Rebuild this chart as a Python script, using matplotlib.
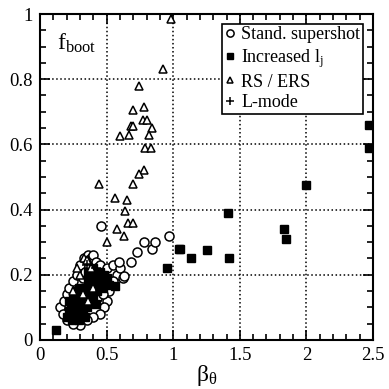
import numpy as np
import matplotlib
matplotlib.use("Agg")
import matplotlib.pyplot as plt
from matplotlib.ticker import MultipleLocator

plt.rcParams['font.family'] = ['Liberation Serif', 'DejaVu Serif']
plt.rcParams['mathtext.fontset'] = 'stix'

# standard supershot (open circles)
ss_x = [0.15, 0.18, 0.20, 0.22, 0.25, 0.28, 0.30, 0.33, 0.36, 0.38, 0.40, 0.42,
        0.45, 0.50, 0.55, 0.58, 0.62, 0.55, 0.52, 0.50, 0.48, 0.45, 0.40, 0.35,
        0.30, 0.25, 0.20, 0.17, 0.27, 0.32, 0.37, 0.43, 0.47, 0.23, 0.34, 0.41,
        0.46, 0.60, 0.68, 0.73, 0.78, 0.84, 0.865, 0.965, 0.59, 0.63]
ss_y = [0.10, 0.12, 0.14, 0.16, 0.18, 0.20, 0.23, 0.25, 0.26, 0.25, 0.26, 0.24,
        0.23, 0.22, 0.23, 0.20, 0.19, 0.18, 0.15, 0.12, 0.10, 0.08, 0.07, 0.06,
        0.045, 0.05, 0.06, 0.08, 0.11, 0.19, 0.16, 0.13, 0.14, 0.09, 0.21, 0.20,
        0.35, 0.22, 0.24, 0.27, 0.30, 0.28, 0.30, 0.32, 0.24, 0.195]

# increased li (filled squares)
li_x = [0.12, 0.20, 0.22, 0.24, 0.25, 0.27, 0.28, 0.30, 0.30, 0.32, 0.33, 0.35,
        0.35, 0.36, 0.38, 0.38, 0.40, 0.40, 0.42, 0.43, 0.45, 0.45, 0.47, 0.48,
        0.50, 0.52, 0.25, 0.27, 0.32, 0.34, 0.22, 0.56, 0.42, 0.37, 0.29, 0.44,
        0.40, 0.36, 0.26, 0.31, 0.34, 0.39, 0.44, 0.48, 0.23, 0.29,
        0.95, 1.045, 1.05, 1.13, 1.25, 1.41, 1.42, 1.83, 1.85, 2.0,
        2.47, 2.47]
li_y = [0.03, 0.07, 0.09, 0.06, 0.10, 0.08, 0.12, 0.10, 0.14, 0.12, 0.16, 0.10,
        0.14, 0.18, 0.15, 0.20, 0.13, 0.17, 0.19, 0.15, 0.18, 0.21, 0.16, 0.20,
        0.19, 0.17, 0.13, 0.15, 0.09, 0.07, 0.12, 0.165, 0.11, 0.12, 0.06, 0.20,
        0.22, 0.21, 0.075, 0.075, 0.12, 0.17, 0.17, 0.18, 0.10, 0.16,
        0.22, 0.28, 0.28, 0.25, 0.275, 0.39, 0.25, 0.34, 0.31, 0.475,
        0.66, 0.59]

# RS / ERS (open triangles)
rs_x = [0.985, 0.92, 0.745, 0.70, 0.78, 0.77, 0.80, 0.68, 0.70, 0.84, 0.60,
        0.67, 0.82, 0.79, 0.83, 0.78, 0.74, 0.70, 0.44, 0.56, 0.65, 0.64, 0.66,
        0.70, 0.58, 0.63, 0.50, 0.36, 0.30, 0.28, 0.33, 0.35, 0.32, 0.36, 0.40,
        0.25, 0.38]
rs_y = [0.985, 0.83, 0.78, 0.705, 0.715, 0.675, 0.675, 0.655, 0.655, 0.65, 0.625,
        0.63, 0.63, 0.59, 0.59, 0.52, 0.51, 0.48, 0.48, 0.435, 0.43, 0.395, 0.36,
        0.36, 0.34, 0.32, 0.30, 0.245, 0.20, 0.22, 0.25, 0.245, 0.14, 0.12, 0.16,
        0.15, 0.22]

# L-mode (plus)
lm_x = [0.38, 0.42, 0.35, 0.45]
lm_y = [0.19, 0.22, 0.23, 0.15]

x_ticks = [0, 0.5, 1, 1.5, 2, 2.5]
x_labels = ['0', '0.5', '1', '1.5', '2', '2.5']
y_ticks = [0, 0.2, 0.4, 0.6, 0.8, 1]
y_labels = ['0', '0.2', '0.4', '0.6', '0.8', '1']

fig = plt.figure(figsize=(3.89, 3.89), dpi=100)
ax = fig.add_axes([0.103, 0.126, 0.856, 0.838])

ax.plot(ss_x, ss_y, 'o', mfc='white', mec='black', ms=6.5, mew=1.1, ls='none',
        label='Stand. supershot')
ax.plot(li_x, li_y, 's', mfc='black', mec='black', ms=5.5, ls='none',
        label=r'Increased $\mathregular{l_j}$')
ax.plot(rs_x, rs_y, '^', mfc='white', mec='black', ms=5.5, mew=1.1, ls='none',
        label='RS / ERS')
ax.plot(lm_x, lm_y, '+', color='black', ms=7, mew=1.1, ls='none',
        label='L-mode')

ax.set_xlim(0, 2.5)
ax.set_ylim(0, 1)
ax.set_xticks(x_ticks)
ax.set_xticklabels(x_labels)
ax.set_yticks(y_ticks)
ax.set_yticklabels(y_labels)
ax.xaxis.set_minor_locator(MultipleLocator(0.1))
ax.yaxis.set_minor_locator(MultipleLocator(0.05))
ax.tick_params(which='both', direction='in', top=True, right=True,
               labelsize=13.5, width=1.2)
ax.tick_params(which='major', length=7, pad=5)
ax.tick_params(which='minor', length=4)
for s in ax.spines.values():
    s.set_linewidth(1.5)
ax.grid(which='major', linestyle=':', color='black', linewidth=1.1)

ax.set_xlabel(r'$\mathregular{\beta_\theta}$', fontsize=17, labelpad=-1)
ax.text(0.05, 0.89, r'$\mathregular{f_{boot}}$', transform=ax.transAxes,
        fontsize=17)

leg = ax.legend(loc='upper right', fontsize=13, frameon=True, fancybox=False,
                handlelength=0.5, handletextpad=0.4, borderpad=0.15,
                labelspacing=0.2, markerscale=0.8,
                bbox_to_anchor=(0.97, 0.97), borderaxespad=0)
leg.get_frame().set_edgecolor('black')
leg.get_frame().set_linewidth(1.2)
leg.get_frame().set_alpha(1)

fig.savefig('out.png', dpi=100)
